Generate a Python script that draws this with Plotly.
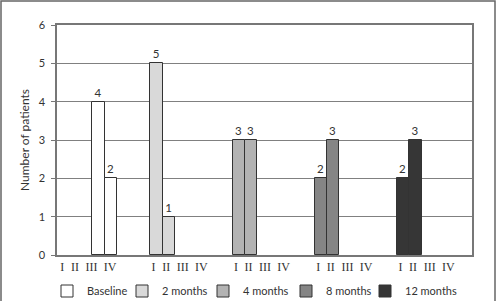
import plotly.graph_objects as go

# ---- data ----
timepoints = ["Baseline", "2 months", "4 months", "8 months", "12 months"]
stages = ["I", "II", "III", "IV"]
baseline = [0, 0, 4, 2]
months_2 = [5, 1, 0, 0]
months_4 = [3, 3, 0, 0]
months_8 = [2, 3, 0, 0]
months_12 = [2, 3, 0, 0]
series_values = [baseline, months_2, months_4, months_8, months_12]
y_ticks = [0, 1, 2, 3, 4, 5, 6]

# ---- style / layout ----
colors = ["#ffffff", "#d9d9d9", "#b3b3b3", "#858585", "#363636"]
PLOT_W, PLOT_H = 415, 230
L, T = 57, 25
bar_w = 12.2
group_start0 = 11.0
group_step = 82.3
label_offsets = [3.3, 15.9, 32.5, 51.1]
label_group_shift = [-9, 0, 0, 0, 0]
legend_text_px = [84, 159, 240, 323, 402]  # where each legend text starts (px)

sans = "Lato"
serif = "Liberation Serif"

fig = go.Figure()
legend_ids = ["legend"] + [f"legend{i}" for i in range(2, len(timepoints) + 1)]
for gi, (name, vals) in enumerate(zip(timepoints, series_values)):
    xs = [group_start0 + gi * group_step + si * bar_w + bar_w / 2 for si in range(len(stages))]
    fig.add_trace(go.Bar(
        x=xs, y=[v if v else None for v in vals], width=bar_w, name=name,
        legend=legend_ids[gi],
        marker=dict(color=colors[gi], line=dict(color="#333333", width=1)),
        text=[str(v) if v else "" for v in vals],
        textposition="outside", cliponaxis=False,
        textfont=dict(family=sans, size=11.5, color="#333333"),
        hoverinfo="skip",
    ))

tickvals, ticktext = [], []
for gi in range(len(timepoints)):
    for si, s in enumerate(stages):
        tickvals.append(group_start0 + gi * group_step + label_offsets[si] + label_group_shift[gi])
        ticktext.append(s)

legend_common = dict(
    orientation="h", xref="paper", yref="paper", xanchor="left",
    y=-(291 - T - PLOT_H) / PLOT_H, yanchor="middle",
    font=dict(family=sans, size=11, color="#333333"),
    itemwidth=30, bgcolor="rgba(0,0,0,0)",
)
legend_layouts = {}
for gi, lid in enumerate(legend_ids):
    legend_layouts[lid] = dict(legend_common, x=(legend_text_px[gi] - 37 - L) / PLOT_W)

fig.update_layout(
    width=497, height=301,
    margin=dict(l=L, r=497 - L - PLOT_W, t=T, b=301 - T - PLOT_H, pad=0, autoexpand=False),
    paper_bgcolor="white", plot_bgcolor="white",
    bargap=0, showlegend=True,
    xaxis=dict(
        range=[0, PLOT_W], tickvals=tickvals, ticktext=ticktext,
        tickfont=dict(family=serif, size=12, color="#333333"),
        showline=True, linecolor="#777777", linewidth=1.5, mirror=True,
        showgrid=False, zeroline=False, ticks="", ticklabelstandoff=0,
        fixedrange=True,
    ),
    yaxis=dict(
        range=[0, 6], tickvals=y_ticks, ticks="outside", ticklen=4,
        tickcolor="#777777",
        tickfont=dict(family=sans, size=11, color="#333333"),
        showline=True, linecolor="#777777", linewidth=1.5, mirror=True,
        showgrid=True, gridcolor="#808080", gridwidth=1, zeroline=False,
        title=dict(text="Number of patients", font=dict(family=sans, size=12, color="#333333"), standoff=6),
        ticklabelstandoff=4,
        fixedrange=True,
    ),
    shapes=[dict(
        type="rect", xref="paper", yref="paper",
        x0=(1 - L) / PLOT_W, x1=(495 - L) / PLOT_W,
        y0=(T + PLOT_H - 303) / PLOT_H, y1=(T + PLOT_H - 1) / PLOT_H,
        line=dict(color="#666666", width=1.5), fillcolor="rgba(0,0,0,0)", layer="below",
    )],
    **legend_layouts,
)

fig.write_html("out.html")
